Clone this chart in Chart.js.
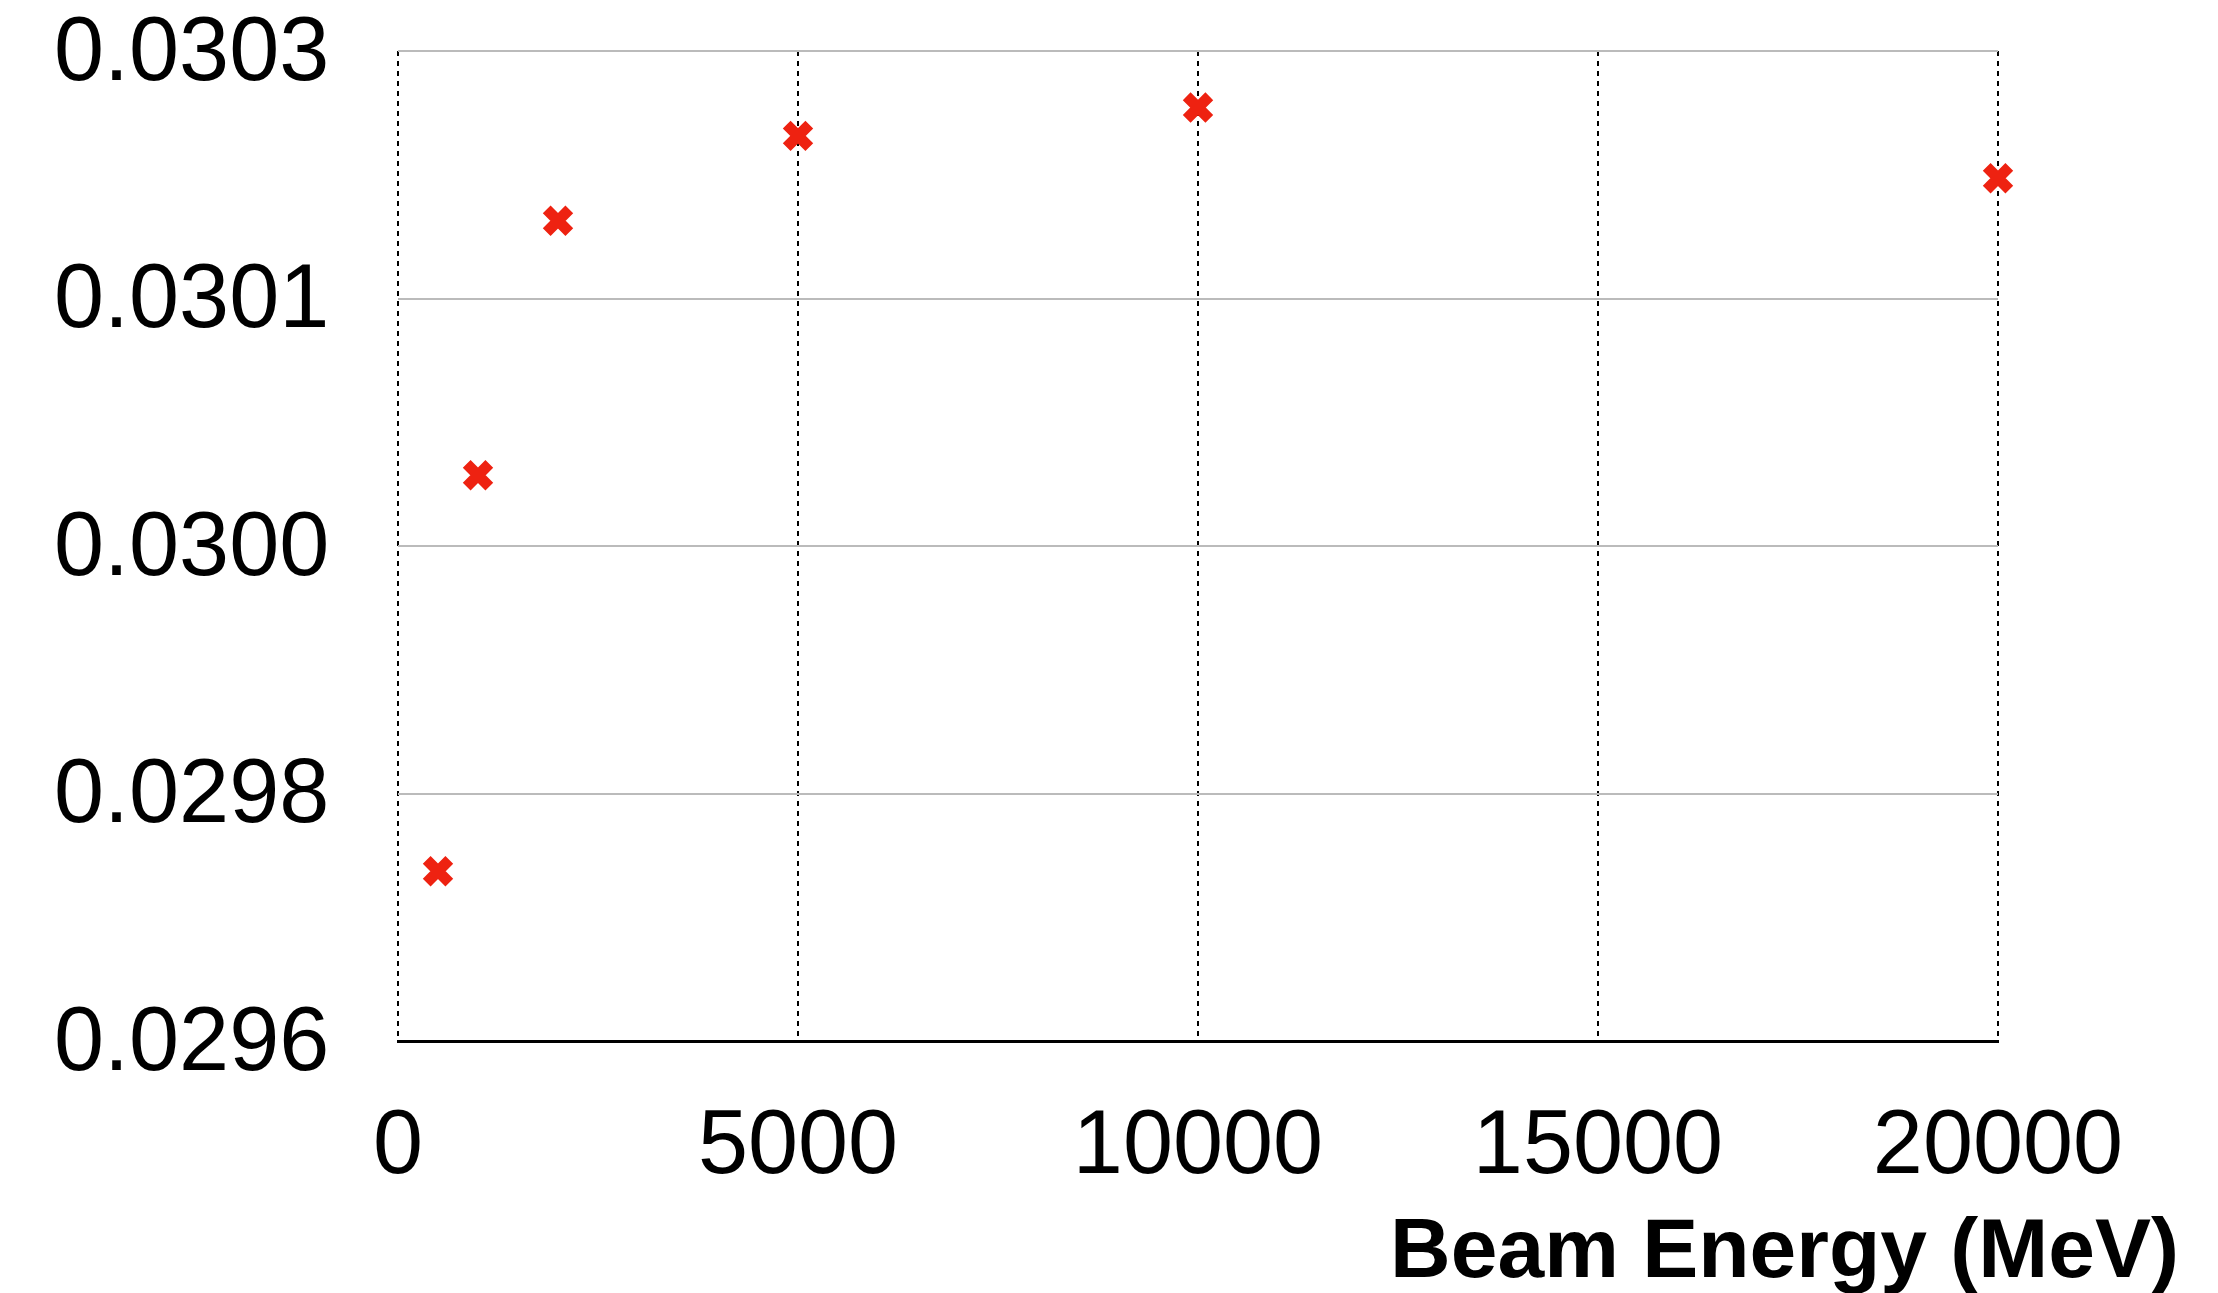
<!DOCTYPE html>
<html lang="en">

<head>
  <meta charset="UTF-8" />
  <title>Beam Energy</title>
  <script src="https://cdn.jsdelivr.net/npm/chart.js"></script>
  <style>
    html, body { margin: 0; padding: 0; background: #ffffff; }
    #grafico { display: block; }
  </style>
</head>

<body>
  <canvas id="grafico" width="2218" height="1293"></canvas>

  <script>
    // beam energies (MeV) and the measured values
    var energias = [500, 1000, 2000, 5000, 10000, 20000];
    var valores = [0.02972, 0.03000, 0.03018, 0.03024, 0.03026, 0.03021];

    // y ticks are evenly spaced, labels rounded to 4 decimals
    var yTicks = [0.0296, 0.029775, 0.02995, 0.030125, 0.0303];
    var yTickLabels = ['0.0296', '0.0298', '0.0300', '0.0301', '0.0303'];
    var xTicks = [0, 5000, 10000, 15000, 20000];

    var tituloX = 'Beam Energy (MeV)';

    var pontos = [];
    for (var i = 0; i < energias.length; i++) {
      pontos.push({ x: energias[i], y: valores[i] });
    }

    // axis title sits right of the plot, so it is drawn by hand
    const tituloEixoX = {
      id: 'tituloEixoX',
      afterDraw(chart) {
        const ctx = chart.ctx;
        ctx.save();
        ctx.fillStyle = '#000000';
        ctx.font = 'bold 84px "Liberation Sans", Arial, sans-serif';
        ctx.textAlign = 'right';
        ctx.textBaseline = 'alphabetic';
        ctx.fillText(tituloX, 2179, 1277);
        ctx.restore();
      }
    };

    const fonteTicks = { family: '"Liberation Sans", Arial, sans-serif', size: 90, lineHeight: 1 };

    const config = {
      type: 'scatter',
      data: {
        datasets: [{
          data: pontos,
          pointStyle: 'crossRot',
          pointRadius: 16,
          pointHoverRadius: 16,
          pointBorderWidth: 11,
          pointHoverBorderWidth: 11,
          borderWidth: 11,
          pointBorderColor: '#ee2211',
          pointBackgroundColor: '#ee2211',
          borderColor: '#ee2211',
          backgroundColor: '#ee2211',
          clip: false
        }]
      },
      options: {
        responsive: false,
        animation: false,
        devicePixelRatio: 1,
        layout: { autoPadding: false, padding: { left: 54, top: 51, right: 220, bottom: 0 } },
        plugins: {
          legend: { display: false },
          tooltip: { enabled: false }
        },
        scales: {
          x: {
            type: 'linear',
            min: 0,
            max: 20000,
            afterBuildTicks: (scale) => { scale.ticks = xTicks.map(v => ({ value: v })); },
            afterFit: (scale) => { scale.height = 252; },
            grid: { color: '#000000', lineWidth: 2, drawTicks: false },
            border: { display: true, color: '#000000', width: 3, dash: [5, 5] },
            ticks: {
              color: '#000000',
              font: fonteTicks,
              padding: 62,
              maxRotation: 0,
              callback: (v) => String(v)
            }
          },
          y: {
            type: 'linear',
            min: 0.0296,
            max: 0.0303,
            afterBuildTicks: (scale) => { scale.ticks = yTicks.map(v => ({ value: v })); },
            afterFit: (scale) => { scale.width = 344; },
            grid: {
              color: (c) => c.index === 0 ? 'rgba(0,0,0,0)' : '#bbbbbb',
              lineWidth: 2,
              drawTicks: false
            },
            border: { display: false },
            ticks: {
              color: '#000000',
              font: fonteTicks,
              padding: 0,
              labelOffset: 4,
              crossAlign: 'far',
              callback: (v, i) => yTickLabels[i]
            }
          }
        }
      },
      plugins: [tituloEixoX]
    };

    var grafico = new Chart(document.getElementById('grafico'), config);
  </script>
</body>

</html>
